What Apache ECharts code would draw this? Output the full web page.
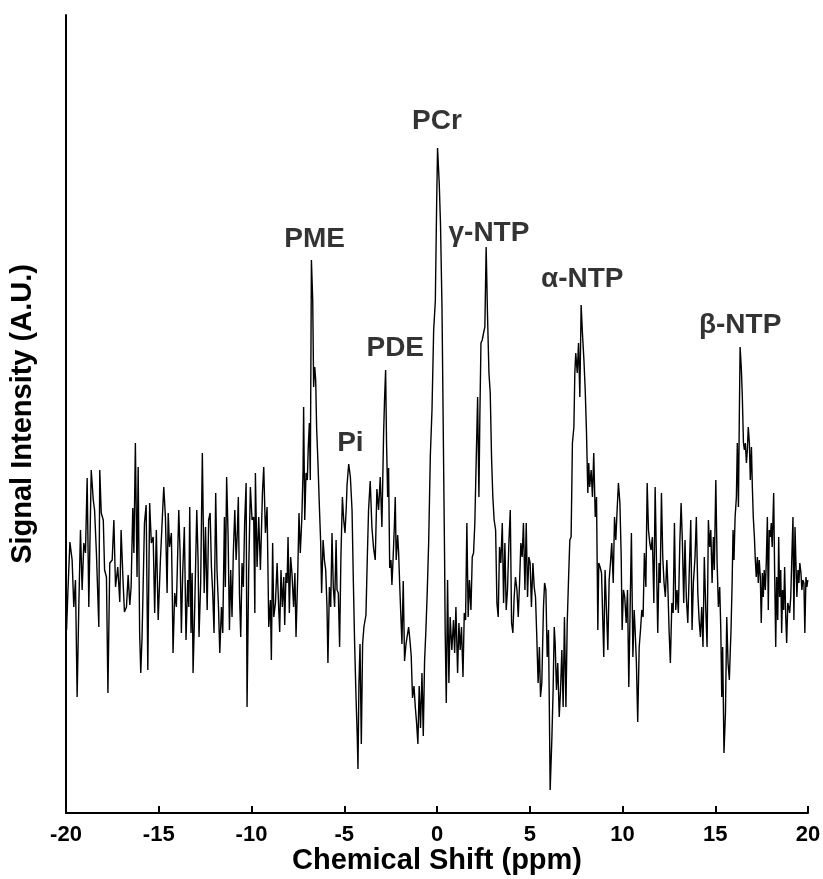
<!DOCTYPE html>
<html>
<head>
<meta charset="utf-8">
<script src="https://cdn.jsdelivr.net/npm/echarts@6/dist/echarts.min.js"></script>
<style>
html,body{margin:0;padding:0;background:#fff;}
#chart{width:823px;height:879px;}
</style>
</head>
<body>
<div id="chart"></div>
<script>
// Chemical shift (ppm) positions of the sampled spectrum
const ppm = [
-19.97,-19.90,-19.79,-19.67,-19.58,-19.49,-19.40,-19.31,-19.22,-19.13,-19.04,-18.95,-18.86,-18.77,-18.64,-18.53,-18.46,-18.36,-18.23,-18.18,
-18.10,-17.99,-17.92,-17.82,-17.74,-17.64,-17.51,-17.42,-17.33,-17.21,-17.10,-17.03,-16.92,-16.85,-16.74,-16.65,-16.56,-16.49,-16.40,-16.34,
-16.26,-16.17,-16.11,-16.03,-15.97,-15.90,-15.77,-15.68,-15.59,-15.49,-15.40,-15.30,-15.22,-15.13,-15.03,
-14.91,-14.82,-14.73,-14.64,-14.55,-14.49,-14.42,-14.32,-14.28,-14.23,-14.14,-14.05,-13.92,-13.85,-13.78,-13.71,-13.62,-13.53,-13.44,-13.38,
-13.33,-13.26,-13.20,-13.15,-13.06,-12.95,-12.88,-12.83,-12.74,-12.65,-12.55,-12.48,-12.39,-12.31,-12.23,-12.16,-12.09,-12.02,-11.93,-11.86,
-11.78,-11.71,-11.62,-11.55,-11.46,-11.41,-11.34,-11.26,-11.19,-11.12,-11.05,-10.98,-10.90,-10.83,-10.76,-10.71,-10.65,-10.58,-10.51,-10.44,
-10.37,-10.29,-10.24,-10.15,-10.06,-9.97,-9.88,-9.82,
-9.79,-9.70,-9.61,-9.52,-9.41,-9.34,-9.25,-9.16,-9.07,-8.98,-8.93,-8.86,-8.80,-8.71,-8.62,-8.53,-8.48,-8.41,-8.34,-8.26,
-8.21,-8.14,-8.08,-8.03,-7.96,-7.89,-7.82,-7.73,-7.66,-7.60,-7.51,-7.44,-7.37,-7.29,-7.22,-7.19,-7.13,-7.06,-6.99,-6.94,
-6.88,-6.83,-6.77,-6.70,-6.65,-6.59,-6.54,-6.49,-6.41,-6.34,-6.27,-6.22,-6.14,-6.07,-6.00,-5.93,-5.88,-5.80,-5.73,-5.66,
-5.59,-5.52,-5.44,-5.39,-5.32,-5.25,-5.18,-5.10,-5.03,-4.96,-4.89,
-4.85,-4.76,-4.67,-4.58,-4.51,-4.44,-4.37,-4.30,-4.26,-4.21,-4.15,-4.08,-4.01,-3.94,-3.83,-3.76,-3.69,-3.60,-3.51,-3.42,
-3.33,-3.24,-3.15,-3.06,-2.97,-2.88,-2.83,-2.77,-2.72,-2.66,-2.61,-2.55,-2.48,-2.43,-2.37,-2.30,-2.25,-2.20,-2.12,-2.07,
-2.01,-1.96,-1.89,-1.82,-1.75,-1.67,-1.60,-1.53,-1.46,-1.39,-1.32,-1.24,-1.17,-1.10,-1.03,-0.96,-0.89,-0.81,-0.74,-0.67,
-0.60,-0.53,-0.45,-0.36,-0.27,-0.18,-0.09,-0.02,0.03,0.12,0.19,0.27,0.34,0.41,
0.44,0.50,0.57,0.64,0.71,0.80,0.89,0.95,1.02,1.11,1.18,1.25,1.32,1.40,1.47,1.54,1.61,1.68,1.75,1.83,
1.90,1.97,2.04,2.11,2.19,2.26,2.31,2.37,2.44,2.51,2.58,2.65,2.72,2.80,2.87,2.94,3.01,3.08,3.16,3.23,
3.30,3.37,3.44,3.52,3.59,3.66,3.73,3.80,3.88,3.95,4.02,4.09,4.16,4.23,4.31,4.38,4.45,4.52,4.59,4.66,
4.74,4.81,4.88,4.95,5.02,5.09,5.17,5.24,5.31,5.38,5.45,5.52,
5.58,5.65,5.74,5.80,5.87,5.94,6.01,6.05,6.10,6.19,6.26,6.32,6.37,6.44,6.51,6.59,6.66,6.73,6.80,6.87,
6.95,7.02,7.09,7.16,7.23,7.30,7.38,7.43,7.48,7.56,7.63,7.70,7.77,7.84,7.92,7.99,8.06,8.13,8.18,8.23,
8.31,8.38,8.45,8.53,8.60,8.67,8.72,8.79,8.87,8.94,8.99,9.06,9.13,9.21,9.28,9.35,9.42,9.50,9.57,9.64,
9.71,9.78,9.86,9.93,9.98,10.05,10.12,10.20,10.27,10.34,10.41,10.48,10.56,10.63,
10.68,10.75,10.82,10.90,10.97,11.04,11.11,11.18,11.26,11.33,11.40,11.47,11.54,11.61,11.69,11.76,11.83,11.90,11.97,12.03,
12.10,12.17,12.24,12.31,12.39,12.44,12.51,12.58,12.66,12.73,12.80,12.87,12.94,13.01,13.09,13.16,13.23,13.30,13.37,13.44,
13.52,13.59,13.68,13.75,13.82,13.91,13.98,14.06,14.13,14.20,14.27,14.34,14.41,14.49,14.56,14.63,14.70,14.76,14.83,14.90,
14.95,15.03,15.10,15.17,15.24,15.30,15.35,15.40,15.47,15.55,15.62,15.69,15.76,
15.80,15.85,15.91,15.96,16.01,16.07,16.14,16.19,16.25,16.29,16.34,16.41,16.46,16.52,16.57,16.62,16.68,16.73,16.78,16.84,
16.89,16.95,17.00,17.05,17.11,17.16,17.21,17.27,17.32,17.37,17.43,17.48,17.54,17.59,17.64,17.70,17.75,17.81,17.86,17.91,
17.97,18.02,18.07,18.15,18.20,18.26,18.31,18.37,18.42,18.47,18.53,18.58,18.63,18.69,18.74,18.80,18.85,18.91,18.96,19.01,
19.07,19.12,19.19,19.24,19.30,19.35,19.40,19.46,19.51,19.56,19.62,19.67,19.72,19.78,19.83,19.89,19.94,19.99
];
// Signal intensity (A.U.) at each position
const intensity = [
183,220,271,253,206,233,116,206,283,223,270,260,335,206,343,313,303,260,186,343,
300,293,243,236,120,250,253,293,226,246,211,283,230,201,206,238,208,226,305,260,
370,236,346,180,140,176,290,308,143,310,270,276,200,283,193,
253,290,326,296,220,300,266,280,233,160,220,206,303,260,180,240,286,173,233,206,
306,180,240,140,206,303,253,176,230,360,220,286,203,293,300,246,220,180,320,243,
206,160,206,180,296,226,336,276,183,243,196,260,303,253,283,316,220,176,250,226,
290,330,106,243,326,293,296,200,
340,246,296,243,320,346,280,306,186,213,153,270,196,210,250,203,181,243,206,236,
188,240,230,276,200,256,240,206,240,176,236,300,260,293,343,406,293,340,333,366,
390,333,553,513,426,446,433,386,346,306,270,220,273,253,243,206,150,226,206,280,
226,206,273,223,220,166,256,316,293,280,306,
328,349,336,303,232,169,119,77,44,127,169,69,169,186,198,253,303,332,286,265,
253,324,303,336,286,378,412,443,370,316,345,245,253,228,253,286,316,253,278,261,
228,203,169,232,152,169,169,186,173,157,115,127,106,90,69,127,85,140,77,152,
182,219,270,357,403,483,512,608,665,630,588,504,378,253,
183,110,233,130,196,163,193,160,206,140,190,163,186,136,200,193,290,196,233,203,
256,260,290,350,416,316,396,470,473,480,486,566,500,440,420,356,316,293,283,210,
196,266,250,290,210,270,203,223,273,303,190,180,216,236,223,196,230,270,256,290,
223,290,216,256,250,206,250,226,216,176,130,166,
116,130,206,230,223,156,183,116,23,73,123,186,170,123,150,96,123,163,106,196,
106,190,233,273,276,370,386,440,460,440,470,416,508,480,453,423,380,320,350,326,
343,316,360,296,316,183,250,246,240,240,156,243,206,163,233,250,270,230,296,273,
303,330,310,256,183,223,216,190,223,126,203,280,156,203,
183,150,91,166,183,203,196,260,226,330,283,270,263,276,210,326,253,180,250,230,
320,256,230,216,253,230,183,150,210,200,290,203,223,200,270,310,270,210,273,216,
190,236,293,183,230,256,296,220,193,176,206,166,256,203,166,293,266,283,230,276,
243,333,250,206,226,183,116,166,60,100,196,150,133,
156,183,230,283,253,296,316,370,306,383,466,443,416,370,363,370,350,363,386,370,
333,366,326,296,276,253,236,256,230,253,236,190,240,216,243,223,250,296,203,283,
276,290,266,320,243,166,236,193,276,216,243,180,223,203,246,196,170,210,206,200,
216,250,296,193,286,250,216,243,230,250,240,223,233,230,180,236,226,233
];
// Peak annotations
const peakNames = ['PME', 'Pi', 'PDE', 'PCr', 'γ-NTP', 'α-NTP', 'β-NTP'];
const peakLabelPpm = [-6.6, -4.67, -2.25, 0.0, 2.8, 7.83, 16.34];
const peakLabelY = [574, 370, 465, 692, 580, 534, 488];
const xTicks = {min: -20, max: 20, step: 5};

const spectrum = ppm.map((x, i) => [x, intensity[i]]);
const labels = peakNames.map((n, i) => ({value: [peakLabelPpm[i], peakLabelY[i]], name: n}));

const FONT = '"Liberation Sans", Arial, sans-serif';
const chart = echarts.init(document.getElementById('chart'), null, {renderer: 'canvas'});
chart.setOption({
  animation: false,
  backgroundColor: '#ffffff',
  grid: {left: 66, right: 15, top: 15, bottom: 66, containLabel: false, outerBoundsMode: 'none'},
  xAxis: {
    type: 'value',
    min: xTicks.min, max: xTicks.max, interval: xTicks.step,
    name: 'Chemical Shift (ppm)',
    nameLocation: 'middle',
    nameGap: 33,
    nameMoveOverlap: false,
    nameTextStyle: {fontFamily: FONT, fontWeight: 'bold', fontSize: 29, color: '#000'},
    axisLine: {show: true, onZero: false, lineStyle: {color: '#000', width: 2}},
    axisTick: {show: true, inside: true, length: 7, lineStyle: {color: '#000', width: 2}},
    axisLabel: {fontFamily: FONT, fontWeight: 'bold', fontSize: 22, color: '#000', margin: 11},
    splitLine: {show: false}
  },
  yAxis: {
    type: 'value',
    min: 0, max: 798,
    name: 'Signal Intensity (A.U.)',
    nameLocation: 'middle',
    nameGap: 29,
    nameMoveOverlap: false,
    nameTextStyle: {fontFamily: FONT, fontWeight: 'bold', fontSize: 29, color: '#000'},
    axisLine: {show: true, onZero: false, lineStyle: {color: '#000', width: 2}},
    axisTick: {show: false},
    axisLabel: {show: false},
    splitLine: {show: false}
  },
  series: [
    {
      type: 'line',
      data: spectrum,
      showSymbol: false,
      symbol: 'none',
      sampling: null,
      lineStyle: {color: '#000', width: 1.4},
      z: 3
    },
    {
      type: 'scatter',
      data: labels,
      symbolSize: 1,
      itemStyle: {color: 'rgba(0,0,0,0)'},
      label: {
        show: true,
        position: 'inside',
        formatter: p => p.name,
        fontFamily: FONT, fontWeight: 'bold', fontSize: 28, color: '#000'
      },
      z: 4
    }
  ]
});
</script>
</body>
</html>
